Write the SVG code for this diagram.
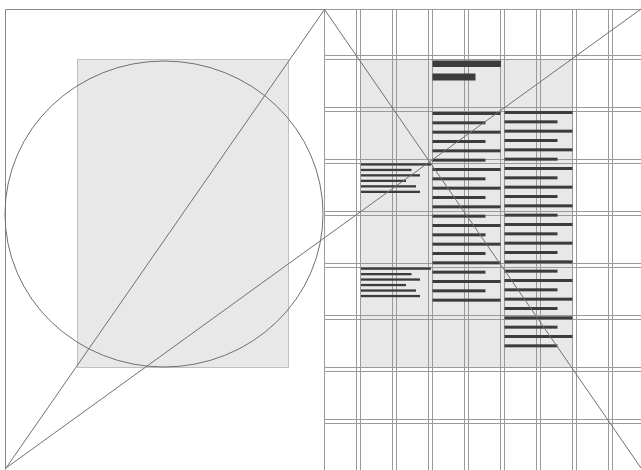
<svg xmlns="http://www.w3.org/2000/svg" width="641" height="470" viewBox="0 0 641 470">
<style>
.bg{fill:#fff}
.area{fill:#e8e8e8;stroke:#8a8a8a;stroke-width:1;stroke-dasharray:1 1}
.grid{stroke:#9a9a9a;stroke-width:1;fill:none}
.edge{stroke:#8a8a8a;stroke-width:1;fill:none}
.diag{stroke:#707070;stroke-width:1;fill:none}
.bar{fill:#3c3c3c}
</style>
<rect class="bg" x="0" y="0" width="641" height="470"/>
<g id="left-page">
  <path class="edge" d="M5.5,470 V9.5 H324.5"/>
  <rect class="area" x="77.5" y="59.5" width="211" height="308"/>
  <ellipse class="diag" cx="164" cy="214" rx="159" ry="153"/>
</g>
<g id="right-page">
  <rect class="area" x="360.5" y="59.5" width="212" height="308"/>
  <g id="grid" class="grid">
    <path d="M324.5,9.5 H641 M324.5,9.5 V470"/>
    <path d="M356.5,9.5V470 M360.5,9.5V470 M392.5,9.5V470 M396.5,9.5V470 M428.5,9.5V470 M432.5,9.5V470 M464.5,9.5V470 M468.5,9.5V470 M500.5,9.5V470 M504.5,9.5V470 M536.5,9.5V470 M540.5,9.5V470 M572.5,9.5V470 M576.5,9.5V470 M608.5,9.5V470 M612.5,9.5V470"/>
    <path d="M324.5,55.5H641 M324.5,59.5H641 M324.5,107.5H641 M324.5,111.5H641 M324.5,159.5H641 M324.5,163.5H641 M324.5,211.5H641 M324.5,215.5H641 M324.5,263.5H641 M324.5,267.5H641 M324.5,315.5H641 M324.5,319.5H641 M324.5,367.5H641 M324.5,371.5H641 M324.5,419.5H641 M324.5,423.5H641"/>
  </g>
  <g id="headline" class="bar">
    <rect x="432.5" y="60.5" width="68.5" height="6.5"/>
    <rect x="432.5" y="73.5" width="43" height="7"/>
  </g>
  <g id="caption-1" class="bar">
    <rect x="361" y="163.3" width="70" height="2.3"/>
    <rect x="361" y="168.8" width="50.5" height="2.3"/>
    <rect x="361" y="174.2" width="59" height="2.3"/>
    <rect x="361" y="179.7" width="45" height="2.3"/>
    <rect x="361" y="185.2" width="55" height="2.3"/>
    <rect x="361" y="190.7" width="59" height="2.3"/>
  </g>
  <g id="caption-2" class="bar">
    <rect x="361" y="267.5" width="70" height="2.3"/>
    <rect x="361" y="273" width="50.5" height="2.3"/>
    <rect x="361" y="278.4" width="59" height="2.3"/>
    <rect x="361" y="283.9" width="45" height="2.3"/>
    <rect x="361" y="289.4" width="55" height="2.3"/>
    <rect x="361" y="294.9" width="59" height="2.3"/>
  </g>
  <g id="column-1" class="bar">
    <rect x="432.5" y="112" width="68" height="3"/>
    <rect x="432.5" y="121.33" width="53" height="3"/>
    <rect x="432.5" y="130.67" width="68" height="3"/>
    <rect x="432.5" y="140" width="53" height="3"/>
    <rect x="432.5" y="149.33" width="68" height="3"/>
    <rect x="432.5" y="158.67" width="53" height="3"/>
    <rect x="432.5" y="168" width="68" height="3"/>
    <rect x="432.5" y="177.33" width="53" height="3"/>
    <rect x="432.5" y="186.67" width="68" height="3"/>
    <rect x="432.5" y="196" width="53" height="3"/>
    <rect x="432.5" y="205.33" width="68" height="3"/>
    <rect x="432.5" y="214.67" width="53" height="3"/>
    <rect x="432.5" y="224" width="68" height="3"/>
    <rect x="432.5" y="233.33" width="53" height="3"/>
    <rect x="432.5" y="242.67" width="68" height="3"/>
    <rect x="432.5" y="252" width="53" height="3"/>
    <rect x="432.5" y="261.33" width="68" height="3"/>
    <rect x="432.5" y="270.67" width="53" height="3"/>
    <rect x="432.5" y="280" width="68" height="3"/>
    <rect x="432.5" y="289.33" width="53" height="3"/>
    <rect x="432.5" y="298.67" width="68" height="3"/>
  </g>
  <g id="column-2" class="bar">
    <rect x="504.5" y="111" width="68" height="3"/>
    <rect x="504.5" y="120.33" width="53" height="3"/>
    <rect x="504.5" y="129.67" width="68" height="3"/>
    <rect x="504.5" y="139" width="53" height="3"/>
    <rect x="504.5" y="148.33" width="68" height="3"/>
    <rect x="504.5" y="157.67" width="53" height="3"/>
    <rect x="504.5" y="167" width="68" height="3"/>
    <rect x="504.5" y="176.33" width="53" height="3"/>
    <rect x="504.5" y="185.67" width="68" height="3"/>
    <rect x="504.5" y="195" width="53" height="3"/>
    <rect x="504.5" y="204.33" width="68" height="3"/>
    <rect x="504.5" y="213.67" width="53" height="3"/>
    <rect x="504.5" y="223" width="68" height="3"/>
    <rect x="504.5" y="232.33" width="53" height="3"/>
    <rect x="504.5" y="241.67" width="68" height="3"/>
    <rect x="504.5" y="251" width="53" height="3"/>
    <rect x="504.5" y="260.33" width="68" height="3"/>
    <rect x="504.5" y="269.67" width="53" height="3"/>
    <rect x="504.5" y="279" width="68" height="3"/>
    <rect x="504.5" y="288.33" width="53" height="3"/>
    <rect x="504.5" y="297.67" width="68" height="3"/>
    <rect x="504.5" y="307" width="53" height="3"/>
    <rect x="504.5" y="316.33" width="68" height="3"/>
    <rect x="504.5" y="325.67" width="53" height="3"/>
    <rect x="504.5" y="335" width="68" height="3"/>
    <rect x="504.5" y="344.33" width="53" height="3"/>
  </g>
</g>
<g id="connectors" class="diag">
  <line x1="6" y1="468" x2="324.5" y2="9.5"/>
  <line x1="6" y1="468" x2="641" y2="9"/>
  <line x1="324.5" y1="9.5" x2="641" y2="468"/>
</g>
</svg>
